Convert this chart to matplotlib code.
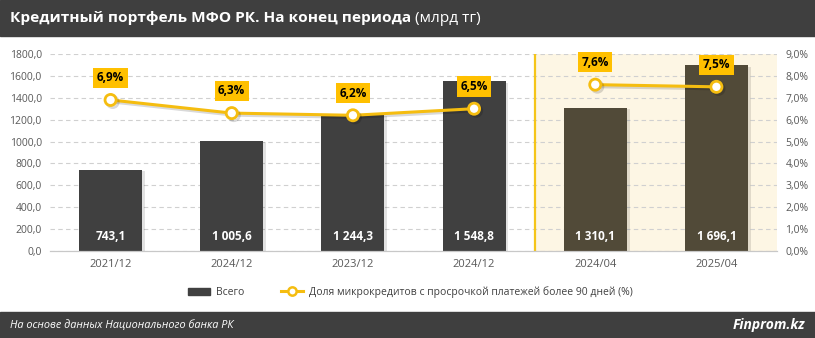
import matplotlib.pyplot as plt
import matplotlib.patheffects as pe
from matplotlib.patches import Rectangle
from matplotlib.lines import Line2D
from matplotlib.ticker import FuncFormatter, MultipleLocator

plt.rcParams["font.family"] = ["Open Sans", "DejaVu Sans"]

periods = ["2021/12", "2024/12", "2023/12", "2024/12", "2024/04", "2025/04"]
portfolio = [743.1, 1005.6, 1244.3, 1548.8, 1310.1, 1696.1]
overdue_pct = [6.9, 6.3, 6.2, 6.5, 7.6, 7.5]

W, H = 815, 338
fig = plt.figure(figsize=(W / 100, H / 100), dpi=100)
fig.patch.set_facecolor("white")

# header and footer bands
fig.patches.append(Rectangle((0, 1 - 36 / H), 1, 36 / H, transform=fig.transFigure,
                             color="#3f3f3f", zorder=0))
fig.patches.append(Rectangle((0, 0), 1, 26 / H, transform=fig.transFigure,
                             color="#3f3f3f", zorder=0))
fig.text(10 / W, 1 - 18 / H, "Кредитный портфель МФО РК. На конец периода",
         color="white", fontsize=11.1, fontweight="bold", va="center", ha="left")
t = fig.texts[-1]
fig.canvas.draw()
bb = t.get_window_extent()
fig.text(bb.x1 / W + 4 / W, 1 - 18 / H, "(млрд тг)", color="white", fontsize=11.1,
         va="center", ha="left")
fig.text(10 / W, 13 / H, "На основе данных Национального банка РК", color="white",
         fontsize=7.8, style="italic", va="center", ha="left")
fig.text(1 - 10 / W, 13 / H, "Finprom.kz", color="white", fontsize=10,
         style="italic", fontweight="bold", va="center", ha="right")

ax = fig.add_axes([50 / W, (H - 251) / H, 727 / W, 197 / H])
ax2 = ax.twinx()
ax.set_zorder(1)
ax2.set_zorder(2)
ax.patch.set_visible(False)
ax2.patch.set_visible(False)

x = list(range(len(periods)))
ax.set_xlim(-0.5, 5.5)
ax.set_ylim(0, 1800)
ax2.set_ylim(0, 9)

# highlighted recent period
ax.axvspan(3.5, 5.5, color="#fdf6e4", zorder=0)
ax.axvline(3.5, color="#f5c518", lw=1.6, zorder=1)

ax.yaxis.set_major_locator(MultipleLocator(200))
ax.grid(axis="y", color="#d0d0d0", ls=(0, (4, 3)), lw=0.8, zorder=0.5)
ax.set_axisbelow(True)

bar_colors = ["#404040"] * 4 + ["#514a38"] * 2
bars = ax.bar(x, portfolio, width=0.52, color=bar_colors, zorder=2)
for b in bars:
    b.set_path_effects([pe.SimplePatchShadow(offset=(2, -1), alpha=0.12), pe.Normal()])

for xi, v in zip(x, portfolio):
    s = f"{v:,.1f}".replace(",", " ").replace(".", ",")
    ax.text(xi, 70, s, color="white", fontsize=8.5, fontweight="bold",
            ha="center", va="bottom", zorder=3)

gold = "#f5bd10"
for seg in (slice(0, 4), slice(4, 6)):
    ax2.plot(x[seg], overdue_pct[seg], color=gold, lw=2.2, marker="o", ms=8,
             mfc="white", mec=gold, mew=2, zorder=4,
             path_effects=[pe.SimpleLineShadow(offset=(1.5, -1.5), alpha=0.15), pe.Normal()])

for xi, v in zip(x, overdue_pct):
    ax2.annotate(f"{v:.1f}%".replace(".", ","), (xi, v), xytext=(0, 16),
                 textcoords="offset points", ha="center", va="center",
                 fontsize=8.5, fontweight="bold", color="black", zorder=5,
                 bbox=dict(boxstyle="square,pad=0.3", fc="#ffc000", ec="none"))

ax.yaxis.set_major_formatter(FuncFormatter(lambda v, p: f"{v:.1f}".replace(".", ",")))
ax2.yaxis.set_major_locator(MultipleLocator(1))
ax2.yaxis.set_major_formatter(FuncFormatter(lambda v, p: f"{v:.1f}%".replace(".", ",")))

ax.set_xticks(x)
ax.set_xticklabels(periods)
for a in (ax, ax2):
    for s in ("top", "left", "right"):
        a.spines[s].set_visible(False)
    a.spines["bottom"].set_color("#c8c8c8")
    a.tick_params(length=0, labelsize=7.5, labelcolor="#595959")
ax.tick_params(axis="x", labelsize=8, pad=6)
ax.tick_params(axis="y", pad=6)
ax2.tick_params(axis="y", pad=6)

handles = [Rectangle((0, 0), 1, 1, color="#404040"),
           Line2D([], [], color=gold, lw=2.2, marker="o", ms=6, mfc="white", mec=gold, mew=1.8)]
fig.legend(handles, ["Всего", "Доля микрокредитов с просрочкой платежей более 90 дней (%)"],
           loc="center", bbox_to_anchor=(410 / W, (H - 292) / H), ncol=2, frameon=False,
           fontsize=7.5, labelcolor="#404040", handlelength=2.2, handleheight=0.6,
           handletextpad=0.5, columnspacing=3.5)

fig.savefig("out.png", dpi=100)
